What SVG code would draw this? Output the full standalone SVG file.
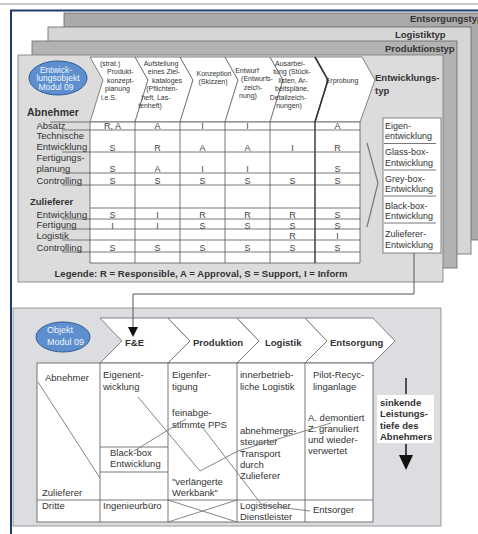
<svg xmlns="http://www.w3.org/2000/svg" width="478" height="534" viewBox="0 0 478 534">
<style>
text{font-family:"Liberation Sans",Arial,sans-serif;fill:#333}
.h{font-size:7px}
.hc{font-size:7px;text-anchor:middle}
.l{font-size:9.5px}
.t{font-size:9px}
.v{font-size:9px;text-anchor:middle;fill:#444}
.b{font-weight:bold;font-size:9.5px}
.bl{font-weight:bold;font-size:10.5px}
.ln{stroke:#555;stroke-width:0.8;fill:none}
.chev{fill:#fff;stroke:#666;stroke-width:0.8}
.dg{stroke:#777;stroke-width:0.9;fill:none}
.ell{fill:#5d8fcf;stroke:#2e5c99;stroke-width:1}
.et{fill:#f2f6fc;font-size:8.5px;text-anchor:middle}
.et2{fill:#f2f6fc;font-size:9px}
.lay{stroke:#666;stroke-width:0.8}
</style>
<rect x="0" y="0" width="478" height="534" fill="#fff"/>
<line x1="0" y1="4" x2="478" y2="4" stroke="#999" stroke-width="1"/>
<path d="M11,534 V10.5 H478" fill="none" stroke="#1f3a6e" stroke-width="2"/>

<g id="layer-entsorgungstyp">
<rect class="lay" x="64" y="13" width="430" height="227" fill="#a9a9a9"/>
<text class="b" x="410" y="22">Entsorgungstyp</text>
</g>
<g id="layer-logistiktyp">
<rect class="lay" x="48" y="27" width="423" height="227" fill="#d6d6d6"/>
<text class="b" x="395" y="37.5">Logistiktyp</text>
</g>
<g id="layer-produktionstyp">
<rect class="lay" x="32" y="41" width="425" height="227" fill="#b2b2b2"/>
<text class="b" x="385" y="51.5">Produktionstyp</text>
</g>

<g id="panel-entwicklungstyp">
<rect x="18" y="55" width="425" height="227" fill="#dcdcdc" stroke="#777" stroke-width="0.8"/>
<g id="obj-entwicklung">
<ellipse class="ell" cx="58" cy="78" rx="29" ry="17"/>
<text class="et" x="56" y="72.5">Entwick-</text>
<text class="et" x="58" y="81">lungsobjekt</text>
<text class="et" x="56" y="89.5">Modul 09</text>
</g>
<g id="phases-top">
<polygon class="chev" points="90,57 135,57 148,80 135,122 90,122 103,80"/>
<polygon class="chev" points="135,57 180,57 193,80 180,122 135,122 148,80"/>
<polygon class="chev" points="180,57 225,57 238,80 225,122 180,122 193,80"/>
<polygon class="chev" points="225,57 270,57 283,80 270,122 225,122 238,80"/>
<polygon class="chev" points="270,57 315,57 328,80 315,122 270,122 283,80"/>
<polygon class="chev" points="315,57 362,57 375,80 360,122 315,122 328,80"/>
<polyline points="315,57 328,80 315,122" fill="none" stroke="#333" stroke-width="1.6"/>
<text class="h" x="100" y="65.5">(strat.)</text>
<text class="h" x="107" y="74">Produkt-</text>
<text class="h" x="107" y="82.5">konzept-</text>
<text class="h" x="105" y="91">planung</text>
<text class="h" x="101" y="99.5">i.e.S.</text>
<text class="hc" x="161" y="65.5">Aufstellung</text>
<text class="hc" x="164" y="74">eines Ziel-</text>
<text class="hc" x="167" y="82.5">kataloges</text>
<text class="hc" x="162" y="91">(Pflichten-</text>
<text class="hc" x="156" y="99.5">heft, Las-</text>
<text class="hc" x="150" y="108">tenheft)</text>
<text class="hc" x="214" y="75.5">Konzeption</text>
<text class="hc" x="213" y="84">(Skizzen)</text>
<text class="hc" x="247" y="72.5">Entwurf</text>
<text class="hc" x="257" y="81">(Entwurfs-</text>
<text class="hc" x="253" y="89.5">zeich-</text>
<text class="hc" x="248" y="98">nung)</text>
<text class="hc" x="290" y="65.5">Ausarbei-</text>
<text class="hc" x="292" y="74">tung (Stück-</text>
<text class="hc" x="293" y="82.5">listen, Ar-</text>
<text class="hc" x="292" y="91">beitspläne,</text>
<text class="hc" x="288" y="99.5">Detailzeich-</text>
<text class="hc" x="289" y="108">nungen)</text>
<text class="hc" x="342" y="82.5">Erprobung</text>
</g>
<text class="b" x="375" y="80.5">Entwicklungs-</text>
<text class="b" x="375" y="93.5">typ</text>

<g id="raci-table">
<rect x="90" y="122" width="270" height="141" fill="#fff"/>
<g class="ln">
<line x1="50" y1="122" x2="360" y2="122"/>
<line x1="62" y1="130" x2="360" y2="130"/>
<line x1="62" y1="152" x2="360" y2="152"/>
<line x1="62" y1="173" x2="360" y2="173"/>
<line x1="62" y1="185" x2="360" y2="185"/>
<line x1="90" y1="208" x2="360" y2="208"/>
<line x1="62" y1="219" x2="360" y2="219"/>
<line x1="62" y1="229" x2="360" y2="229"/>
<line x1="62" y1="240" x2="360" y2="240"/>
<line x1="62" y1="252" x2="360" y2="252"/>
<line x1="90" y1="263" x2="360" y2="263"/>
<line x1="90" y1="122" x2="90" y2="263"/>
<line x1="135" y1="122" x2="135" y2="263"/>
<line x1="180" y1="122" x2="180" y2="263"/>
<line x1="225" y1="122" x2="225" y2="263"/>
<line x1="270" y1="122" x2="270" y2="263"/>
<line x1="315" y1="122" x2="315" y2="263" stroke="#333" stroke-width="1.4"/>
<line x1="360" y1="122" x2="360" y2="263"/>
</g>
<text class="bl" x="27" y="116">Abnehmer</text>
<text class="l" x="36.5" y="128.5">Absatz</text>
<text class="l" x="36.5" y="138.5">Technische</text>
<text class="l" x="36.5" y="150">Entwicklung</text>
<text class="l" x="36.5" y="161">Fertigungs-</text>
<text class="l" x="36.5" y="172">planung</text>
<text class="l" x="36.5" y="183.5">Controlling</text>
<text class="b" x="30" y="204.5">Zulieferer</text>
<text class="l" x="36.5" y="218">Entwicklung</text>
<text class="l" x="36.5" y="228">Fertigung</text>
<text class="l" x="36.5" y="238.5">Logistik</text>
<text class="l" x="36.5" y="250.5">Controlling</text>

<text class="v" x="112.5" y="129">R, A</text><text class="v" x="157.5" y="129">A</text><text class="v" x="202.5" y="129">I</text><text class="v" x="247.5" y="129">I</text><text class="v" x="337.5" y="129">A</text>
<text class="v" x="112.5" y="151">S</text><text class="v" x="157.5" y="151">R</text><text class="v" x="202.5" y="151">A</text><text class="v" x="247.5" y="151">A</text><text class="v" x="292.5" y="151">I</text><text class="v" x="337.5" y="151">R</text>
<text class="v" x="112.5" y="172">S</text><text class="v" x="157.5" y="172">A</text><text class="v" x="202.5" y="172">I</text><text class="v" x="247.5" y="172">I</text><text class="v" x="337.5" y="172">S</text>
<text class="v" x="112.5" y="184">S</text><text class="v" x="157.5" y="184">S</text><text class="v" x="202.5" y="184">S</text><text class="v" x="247.5" y="184">S</text><text class="v" x="292.5" y="184">S</text><text class="v" x="337.5" y="184">S</text>
<text class="v" x="112.5" y="218">S</text><text class="v" x="157.5" y="218">I</text><text class="v" x="202.5" y="218">R</text><text class="v" x="247.5" y="218">R</text><text class="v" x="292.5" y="218">R</text><text class="v" x="337.5" y="218">S</text>
<text class="v" x="112.5" y="228.5">I</text><text class="v" x="157.5" y="228.5">I</text><text class="v" x="202.5" y="228.5">S</text><text class="v" x="247.5" y="228.5">S</text><text class="v" x="292.5" y="228.5">S</text><text class="v" x="337.5" y="228.5">S</text>
<text class="v" x="292.5" y="239">R</text><text class="v" x="337.5" y="239">I</text>
<text class="v" x="112.5" y="251">S</text><text class="v" x="157.5" y="251">S</text><text class="v" x="202.5" y="251">S</text><text class="v" x="247.5" y="251">S</text><text class="v" x="292.5" y="251">S</text><text class="v" x="337.5" y="251">S</text>
</g>
<text class="b" x="201" y="276.5" text-anchor="middle" textLength="293" lengthAdjust="spacing">Legende: R = Responsible, A = Approval, S = Support, I = Inform</text>

<polyline points="367,143 378,183 367,227" fill="none" stroke="#777" stroke-width="1.2"/>
<g id="typ-list">
<rect x="383" y="118" width="58" height="135" fill="#fff" stroke="#666" stroke-width="0.8"/>
<g class="ln">
<line x1="384" y1="143.5" x2="436" y2="143.5"/>
<line x1="384" y1="170" x2="436" y2="170"/>
<line x1="384" y1="196" x2="436" y2="196"/>
<line x1="384" y1="223" x2="436" y2="223"/>
</g>
<text class="t" x="385" y="128.5">Eigen-</text>
<text class="t" x="385" y="139">entwicklung</text>
<text class="t" x="385" y="155">Glass-box-</text>
<text class="t" x="385" y="165.5">Entwicklung</text>
<text class="t" x="385" y="181.5">Grey-box-</text>
<text class="t" x="385" y="192">Entwicklung</text>
<text class="t" x="385" y="208.5">Black-box-</text>
<text class="t" x="385" y="219">Entwicklung</text>
<text class="t" x="385" y="237">Zulieferer-</text>
<text class="t" x="385" y="247.5">Entwicklung</text>
</g>
</g>

<g id="panel-modul">
<rect x="13" y="308" width="428" height="218" fill="#dcdde0" stroke="#888" stroke-width="0.8"/>
<g id="obj-modul">
<ellipse class="ell" cx="63" cy="337" rx="27" ry="15"/>
<text class="et2" x="47" y="333">Objekt</text>
<text class="et2" x="47" y="345">Modul 09</text>
</g>
<g id="phases-bottom">
<polygon class="chev" points="100,318 168,318 190,341 168,363 100,363 122,341"/>
<polygon class="chev" points="168,318 237,318 259,341 237,363 168,363 190,341"/>
<polygon class="chev" points="237,318 305,318 327,341 305,363 237,363 259,341"/>
<polygon class="chev" points="305,318 373,318 395,341 373,363 305,363 327,341"/>
<text class="b" x="125" y="346">F&amp;E</text>
<text class="b" x="193" y="346">Produktion</text>
<text class="b" x="265" y="346">Logistik</text>
<text class="b" x="330" y="346">Entsorgung</text>
</g>
<g id="modul-table">
<rect x="37" y="363" width="336" height="159" fill="#fff"/>
<g class="ln">
<rect x="37" y="363" width="336" height="159"/>
<line x1="100" y1="363" x2="100" y2="522"/>
<line x1="168" y1="363" x2="168" y2="522"/>
<line x1="237" y1="363" x2="237" y2="522"/>
<line x1="305" y1="363" x2="305" y2="522"/>
<line x1="37" y1="500" x2="373" y2="500"/>
<line x1="100" y1="447" x2="168" y2="447"/>
<line x1="100" y1="472" x2="168" y2="472"/>
</g>
<g class="dg">
<line x1="38" y1="382" x2="100" y2="478"/>
<line x1="168" y1="500" x2="237" y2="522"/>
<line x1="237" y1="500" x2="168" y2="522"/>
</g>
<text class="l" x="45" y="380.5">Abnehmer</text>
<text class="l" x="42" y="495.5">Zulieferer</text>
<text class="l" x="42" y="508.5">Dritte</text>
<text class="l" x="103" y="378">Eigenent-</text>
<text class="l" x="103" y="390">wicklung</text>
<text class="l" x="110" y="456">Black-box</text>
<text class="l" x="110" y="466.5">Entwicklung</text>
<text class="l" x="103" y="508.5">Ingenieurbüro</text>
<text class="l" x="172" y="378">Eigenfer-</text>
<text class="l" x="172" y="390">tigung</text>
<text class="l" x="172" y="416">feinabge-</text>
<text class="l" x="172" y="428">stimmte PPS</text>
<text class="l" x="172" y="485">"verlängerte</text>
<text class="l" x="172" y="495.5">Werkbank"</text>
<text class="l" x="240" y="378">innerbetrieb-</text>
<text class="l" x="240" y="390">liche Logistik</text>
<text class="l" x="240" y="433.5">abnehmerge-</text>
<text class="l" x="240" y="445">steuerter</text>
<text class="l" x="240" y="456.5">Transport</text>
<text class="l" x="240" y="468">durch</text>
<text class="l" x="240" y="479">Zulieferer</text>
<text class="l" x="240" y="509">Logistischer</text>
<text class="l" x="240" y="520">Dienstleister</text>
<text class="l" x="313" y="378">Pilot-Recyc-</text>
<text class="l" x="313" y="390">linganlage</text>
<text class="l" x="308" y="420.5">A. demontiert</text>
<text class="l" x="308" y="431.5">Z. granuliert</text>
<text class="l" x="308" y="443">und wieder-</text>
<text class="l" x="308" y="453.5">verwertet</text>
<text class="l" x="313" y="513">Entsorger</text>
</g>
<g id="cross-links" class="dg">
<line x1="138" y1="397" x2="200" y2="471"/>
<polyline points="200,471 238,451 331,423"/>
<line x1="134" y1="451" x2="186" y2="419"/>
<line x1="203" y1="428" x2="262" y2="505"/>
<line x1="262" y1="505" x2="310" y2="511"/>
</g>
<g id="leistungstiefe">
<line x1="406" y1="378" x2="406" y2="394" stroke="#222" stroke-width="1.5"/>
<rect x="377" y="395" width="57" height="48" fill="#fff"/>
<text class="b" x="380" y="405.5">sinkende</text>
<text class="b" x="380" y="417">Leistungs-</text>
<text class="b" x="380" y="428.5">tiefe des</text>
<text class="b" x="380" y="439.5">Abnehmers</text>
<line x1="406" y1="444" x2="406" y2="456" stroke="#111" stroke-width="1.5"/>
<polygon points="399,455 413,455 406,470" fill="#111"/>
</g>
</g>

<g id="connectors">
<polyline points="414,253 414,294 133,294 133,328" fill="none" stroke="#555" stroke-width="1"/>
<polygon points="128,327 138,327 133,337" fill="#111"/>
</g>
</svg>
